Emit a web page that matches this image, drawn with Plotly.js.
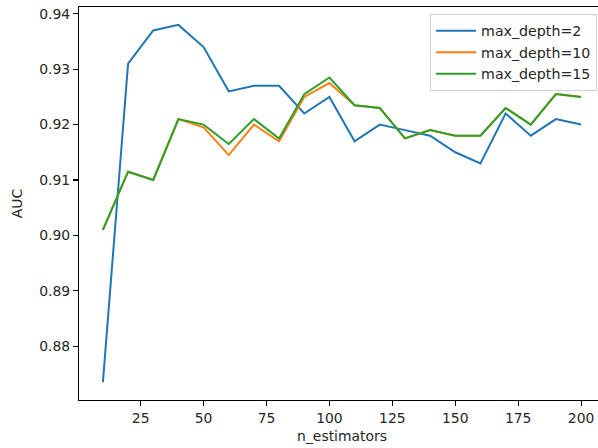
<!DOCTYPE html>
<html>
<head>
<meta charset="utf-8">
<script src="https://cdn.plot.ly/plotly-3.0.1.min.js"></script>
<style>
html,body{margin:0;padding:0;overflow:hidden;background:#fff;width:598px;height:448px;}
#chart{width:607px;height:448px;}
</style>
</head>
<body>
<div id="chart"></div>
<script>
const nEstimators = [10,20,30,40,50,60,70,80,90,100,110,120,130,140,150,160,170,180,190,200];
const aucDepth2  = [0.8735,0.931,0.937,0.938,0.934,0.926,0.927,0.927,0.922,0.925,0.917,0.920,0.919,0.918,0.915,0.913,0.922,0.918,0.921,0.920];
const aucDepth10 = [0.901,0.9115,0.910,0.921,0.9195,0.9145,0.920,0.917,0.925,0.9275,0.9235,0.923,0.9175,0.919,0.918,0.918,0.923,0.920,0.9255,0.925];
const aucDepth15 = [0.901,0.9115,0.910,0.921,0.920,0.9165,0.921,0.9175,0.9255,0.9285,0.9235,0.923,0.9175,0.919,0.918,0.918,0.923,0.920,0.9255,0.925];
const seriesNames = ["max_depth=2","max_depth=10","max_depth=15"];
const xTicks = [25,50,75,100,125,150,175,200];
const yTicks = [0.88,0.89,0.90,0.91,0.92,0.93,0.94];
const yTickText = ["0.88","0.89","0.90","0.91","0.92","0.93","0.94"];

const colors = ["#1f77b4","#ff7f0e","#2ca02c"];
const ys = [aucDepth2, aucDepth10, aucDepth15];
const traces = ys.map((y,i)=>({
  x: nEstimators, y: y, type: "scatter", mode: "lines", name: seriesNames[i],
  line: {color: colors[i], width: 2}
}));

const font = {family: "DejaVu Sans, sans-serif", size: 13.9, color: "#262626"};
const layout = {
  width: 607, height: 448,
  margin: {l: 79, r: 2, t: 7, b: 48},
  paper_bgcolor: "#fff", plot_bgcolor: "#fff",
  font: font,
  showlegend: true,
  legend: {
    x: 0.985, y: 0.982, xanchor: "right", yanchor: "top",
    itemwidth: 40,
    bgcolor: "rgba(255,255,255,0.8)", bordercolor: "#d0d0d0", borderwidth: 1,
    font: {family: "DejaVu Sans, sans-serif", size: 14.2, color: "#262626"}
  },
  xaxis: {
    range: [0.5, 209.5], tickmode: "array", tickvals: xTicks,
    showgrid: false, zeroline: false, showline: true, linecolor: "#000", linewidth: 1.1, mirror: true,
    ticks: "outside", ticklen: 5, tickwidth: 1.1, tickcolor: "#000",
    title: {text: "n_estimators", font: font, standoff: 6}
  },
  yaxis: {
    range: [0.87028, 0.94123], tickmode: "array", tickvals: yTicks, ticktext: yTickText,
    showgrid: false, zeroline: false, showline: true, linecolor: "#000", linewidth: 1.1, mirror: true,
    ticks: "outside", ticklen: 5, tickwidth: 1.1, tickcolor: "#000",
    title: {text: "AUC", font: font, standoff: 13}
  }
};
Plotly.newPlot("chart", traces, layout, {displayModeBar: false, staticPlot: true});
</script>
</body>
</html>
